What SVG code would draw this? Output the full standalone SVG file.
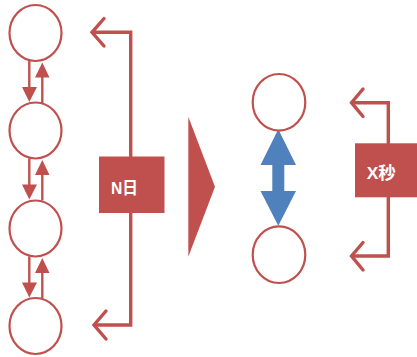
<svg xmlns="http://www.w3.org/2000/svg" width="417" height="357" viewBox="0 0 417 357">
  <style>
    .node { fill: #FFFFFF; stroke: #C0504D; stroke-width: 2.2; }
    .link { stroke: #C0504D; stroke-width: 2.4; fill: none; }
    .head { fill: #C0504D; }
    .bracket { stroke: #C0504D; stroke-width: 3.4; fill: none; stroke-linecap: round; stroke-linejoin: miter; }
    .box { fill: #C0504D; }
    .label { fill: #FFFFFF; font-family: "Liberation Sans", "Noto Sans CJK JP", sans-serif; font-size: 17px; font-weight: bold; }
  </style>

  <!-- connectors between the stacked circles, plus brackets and transition marks -->
  <g id="connectors">
    <!-- down / up arrow pairs -->
    <g id="pair-1">
      <line class="link" x1="29.3" y1="61" x2="29.3" y2="88"/>
      <polygon class="head" points="22,87 37,87 29.3,102"/>
      <line class="link" x1="42.3" y1="77" x2="42.3" y2="103"/>
      <polygon class="head" points="35,77.5 49.5,77.5 42.3,62.5"/>
    </g>
    <g id="pair-2">
      <line class="link" x1="29.3" y1="158.5" x2="29.3" y2="185.5"/>
      <polygon class="head" points="22,184.5 37,184.5 29.3,199.5"/>
      <line class="link" x1="42.3" y1="174.5" x2="42.3" y2="200.5"/>
      <polygon class="head" points="35,175 49.5,175 42.3,160"/>
    </g>
    <g id="pair-3">
      <line class="link" x1="29.3" y1="256.5" x2="29.3" y2="283.5"/>
      <polygon class="head" points="22,282.5 37,282.5 29.3,297.5"/>
      <line class="link" x1="42.3" y1="272.5" x2="42.3" y2="298.5"/>
      <polygon class="head" points="35,273 49.5,273 42.3,258"/>
    </g>

    <!-- left bracket spanning the whole stack -->
    <polyline class="bracket" points="130.7,157 130.7,32.3 93,32.3"/>
    <polyline class="bracket" points="104,18.5 92,32.3 104,46"/>
    <polyline class="bracket" points="130.7,212 130.7,325 96,325"/>
    <polyline class="bracket" points="106,311 94,325 106,339"/>

    <!-- right bracket spanning the pair -->
    <polyline class="bracket" points="388.3,143 388.3,102.7 353,102.7"/>
    <polyline class="bracket" points="363,89 351.5,102.7 363,116.5"/>
    <polyline class="bracket" points="388.3,196 388.3,256 353,256"/>
    <polyline class="bracket" points="363,242.5 351.5,256 363,270"/>

    <!-- transition triangle -->
    <polygon class="head" points="188.3,116.7 215,186.7 188.3,256.7"/>

    <!-- two-way exchange arrow -->
    <polygon fill="#4F81BD" points="278.3,129.3 296,165 284.3,165 284.3,191 296,191 278.3,225.7 260.5,191 272.3,191 272.3,165 260.5,165"/>
  </g>

  <!-- left stack of circles -->
  <g id="node-a1"><ellipse class="node" cx="35.5" cy="33" rx="26" ry="28"/></g>
  <g id="node-a2"><ellipse class="node" cx="35.5" cy="130.5" rx="26" ry="28"/></g>
  <g id="node-a3"><ellipse class="node" cx="35.5" cy="228.5" rx="26" ry="28"/></g>
  <g id="node-a4"><ellipse class="node" cx="35.5" cy="326" rx="26" ry="28"/></g>

  <!-- right pair of circles -->
  <g id="node-b1"><ellipse class="node" cx="279" cy="102.3" rx="26.3" ry="28.3"/></g>
  <g id="node-b2"><ellipse class="node" cx="279" cy="254.7" rx="26.3" ry="28.3"/></g>

  <!-- labels -->
  <g id="label-days">
    <rect class="box" x="99" y="156.5" width="65.5" height="56.5"/>
    <text class="label" x="111" y="193.5" textLength="27" lengthAdjust="spacingAndGlyphs">N日</text>
  </g>
  <g id="label-seconds">
    <rect class="box" x="355" y="143.3" width="62" height="54"/>
    <text class="label" x="366.7" y="178.5" textLength="29" lengthAdjust="spacingAndGlyphs">X秒</text>
  </g>
</svg>
